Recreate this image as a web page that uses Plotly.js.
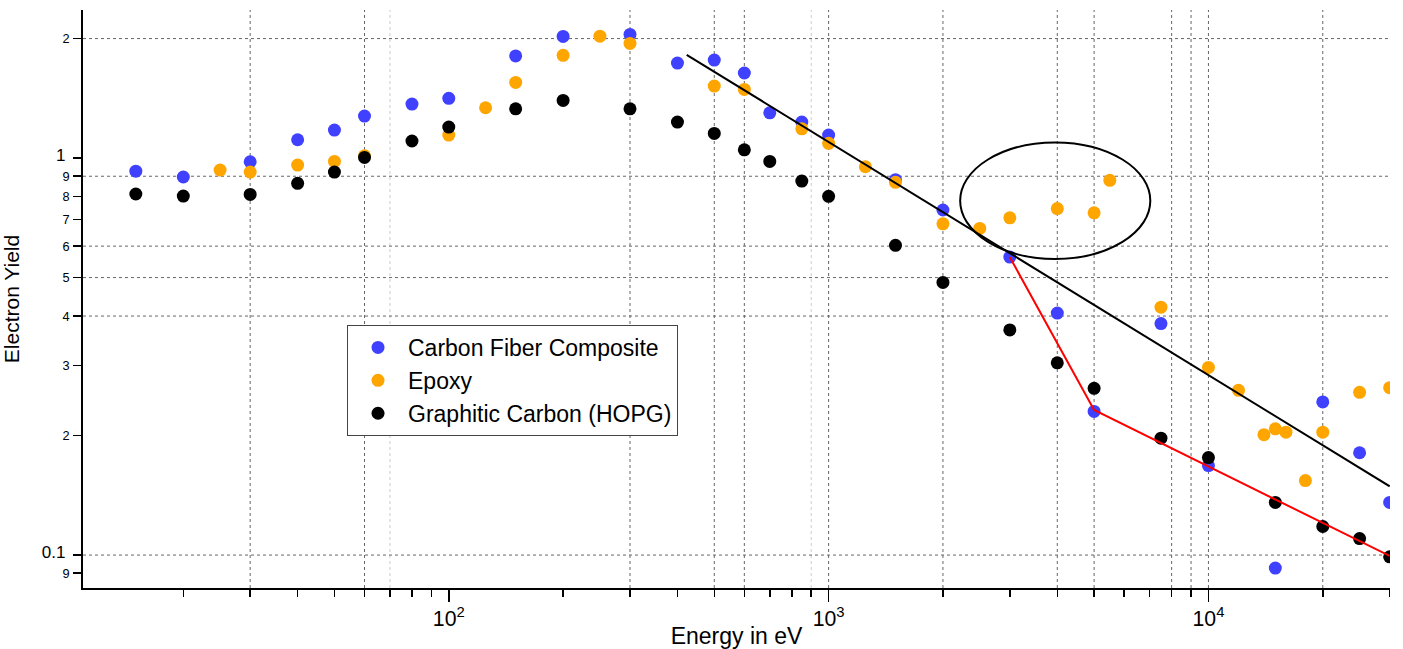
<!DOCTYPE html>
<html><head><meta charset="utf-8">
<script src="https://cdn.plot.ly/plotly-3.0.1.min.js"></script>
<style>html,body{margin:0;padding:0;background:#fff}#chart{width:1403px;height:649px}</style>
</head><body><div id="chart"></div>
<script>
// Energy (eV) and electron yield values
const cfcX = [15,20,30,40,50,60,80,100,150,200,300,400,500,600,700,850,1000,1500,2000,3000,4000,5000,7500,10000,15000,20000,25000,30000];
const cfcY = [0.927,0.896,0.979,1.112,1.176,1.276,1.368,1.414,1.808,2.025,2.049,1.735,1.765,1.638,1.300,1.232,1.143,0.882,0.740,0.563,0.407,0.230,0.383,0.168,0.0927,0.243,0.181,0.1357];

const epoxyX = [25,30,40,50,60,100,125,150,200,250,300,500,600,850,1000,1250,1500,2000,2500,3000,4000,5000,5500,7500,10000,12000,14000,15000,16000,18000,20000,25000,30000];
const epoxyY = [0.933,0.922,0.960,0.981,1.013,1.143,1.339,1.551,1.815,2.028,1.945,1.518,1.489,1.185,1.089,0.951,0.869,0.683,0.665,0.707,0.746,0.728,0.879,0.421,0.297,0.260,0.201,0.208,0.204,0.154,0.204,0.257,0.264];

const hopgX = [15,20,30,40,50,60,80,100,150,200,300,400,500,600,700,850,1000,1500,2000,3000,4000,5000,7500,10000,15000,20000,25000,30000];
const hopgY = [0.812,0.802,0.810,0.864,0.922,1.004,1.104,1.197,1.331,1.397,1.331,1.232,1.154,1.049,0.981,0.875,0.801,0.603,0.486,0.369,0.305,0.263,0.197,0.176,0.1357,0.118,0.110,0.0990];

// Fit lines
const fitBlackX = [423, 30000];
const fitBlackY = [1.82, 0.149];
const fitRedX = [3000, 5000, 30000];
const fitRedY = [0.563, 0.232, 0.0995];

// Highlight ellipse extent (energy, yield)
const ellipseX = [2220, 7030];
const ellipseY = [0.557, 1.095];

// Gridline positions
const xGrid = [30,60,300,500,600,1000,2000,4000,5000,8000,9000,10000,20000];
const xGridLight = [70,900];
const yGrid = [2,0.9,0.6,0.5,0.4,0.1];

const names = ['Carbon Fiber Composite','Epoxy','Graphitic Carbon (HOPG)'];
const colors = ['#4040FF','#FFA500','#000000'];

const traces = [
  {type:'scatter',mode:'markers',name:names[0],x:cfcX,y:cfcY,marker:{color:colors[0],size:13}},
  {type:'scatter',mode:'markers',name:names[1],x:epoxyX,y:epoxyY,marker:{color:colors[1],size:13}},
  {type:'scatter',mode:'markers',name:names[2],x:hopgX,y:hopgY,marker:{color:colors[2],size:13}},
  {type:'scatter',mode:'lines',x:fitBlackX,y:fitBlackY,line:{color:'#000',width:2},showlegend:false,hoverinfo:'skip'},
  {type:'scatter',mode:'lines',x:fitRedX,y:fitRedY,line:{color:'#FF0000',width:2},showlegend:false,hoverinfo:'skip'}
];

const shapes = [];
xGrid.forEach(v => shapes.push({type:'line',xref:'x',yref:'paper',x0:v,x1:v,y0:0,y1:1,layer:'below',line:{color:'#666',width:1,dash:'dot'}}));
xGridLight.forEach(v => shapes.push({type:'line',xref:'x',yref:'paper',x0:v,x1:v,y0:0,y1:1,layer:'below',line:{color:'#ccc',width:1,dash:'dot'}}));
yGrid.forEach(v => shapes.push({type:'line',xref:'paper',yref:'y',x0:0,x1:1,y0:v,y1:v,layer:'below',line:{color:'#666',width:1,dash:'dot'}}));
shapes.push({type:'circle',xref:'x',yref:'y',x0:ellipseX[0],x1:ellipseX[1],y0:ellipseY[0],y1:ellipseY[1],line:{color:'#000',width:2}});

const layout = {
  width:1403, height:649,
  margin:{l:83,r:13,t:10,b:61},
  paper_bgcolor:'#fff', plot_bgcolor:'#fff',
  font:{family:'"Liberation Sans", Arial, sans-serif', color:'#000'},
  showlegend:true,
  legend:{x:0.202,y:0.455,xanchor:'left',yanchor:'top',bordercolor:'#444',borderwidth:1,bgcolor:'#fff',
          font:{size:23},itemwidth:50,tracegroupgap:0},
  xaxis:{type:'log',range:[1.037,4.478],dtick:1,exponentformat:'power',
         ticks:'outside',ticklen:12,tickwidth:1.5,tickcolor:'#000',
         showline:true,linecolor:'#000',linewidth:1.5,showgrid:false,zeroline:false,
         tickfont:{size:17},
         minor:{dtick:'D1',ticks:'outside',ticklen:7,tickwidth:1.5,tickcolor:'#000',showgrid:false},
         title:{text:'Energy in eV',font:{size:23}}},
  yaxis:{type:'log',range:[-1.083,0.373],dtick:'D1',
         ticks:'outside',ticklen:8,tickwidth:1.5,tickcolor:'#000',
         showline:true,linecolor:'#000',linewidth:2,showgrid:false,zeroline:false,
         tickfont:{size:17},
         title:{text:'Electron Yield',font:{size:21},standoff:16}},
  shapes:shapes
};

Plotly.newPlot('chart',traces,layout,{displayModeBar:false,staticPlot:true});
</script>
</body></html>
